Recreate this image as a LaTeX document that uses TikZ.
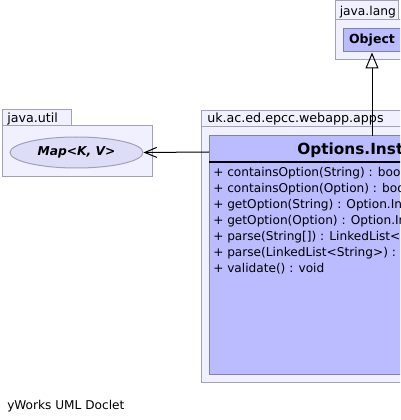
\documentclass[tikz,border=0pt]{standalone}
\usepackage{fontspec}
\setmainfont{DejaVu Sans}
\usetikzlibrary{arrows.meta,shapes.geometric}
\definecolor{pkgfill}{RGB}{240,240,255}
\definecolor{pkgline}{RGB}{160,160,184}
\definecolor{clsfill}{RGB}{187,187,255}
\definecolor{clsline}{RGB}{128,128,168}
\definecolor{ifcfill}{RGB}{221,221,248}
\begin{document}
\begin{tikzpicture}[x=0.75pt, y=-0.75pt, font=\fontsize{9.1}{11}\selectfont,
        pkg/.style={fill=pkgfill, draw=pkgline, line width=0.75pt},
        cls/.style={fill=clsfill, draw=clsline, line width=0.75pt},
        txt/.style={inner sep=0pt, anchor=base west},
        pkglabel/.style={txt, font=\fontsize{9.5}{11}\selectfont},
        inherit/.style={-{Triangle[open, length=12pt, width=9.75pt]}, line width=0.75pt},
        assoc/.style={-{Straight Barb[length=9pt, width=7.5pt]}, line width=0.75pt}]
        \useasboundingbox (0,0) rectangle (400,420);
        \clip (0,0) rectangle (400,420);
        % java.lang
        \draw[pkg] (335,1) rectangle (398,20);
        \draw[pkg] (335,20) rectangle (410,60);
        \node[txt, font=\fontsize{9.2}{11}\selectfont] (langlabel) at (339.5,16) {java.lang};
        \node[cls, minimum width=43.5pt, minimum height=17.25pt, inner sep=0pt, font=\fontsize{9.4}{11}\selectfont\bfseries] (object) at (372,40.5) {Object};
        % java.util
        \draw[pkg] (2,110) rectangle (71,126);
        \draw[pkg] (2,126) rectangle (152,176);
        \node[pkglabel] (utillabel) at (7,122.5) {java.util};
        \node[ellipse, fill=ifcfill, draw=pkgline, line width=0.75pt, minimum width=99.75pt, minimum height=23.25pt, inner sep=0pt, font=\fontsize{9.2}{11}\selectfont\bfseries\itshape] (map) at (76.5,152.5) {Map<K, V>};
        % uk.ac.ed.epcc.webapp.apps
        \draw[pkg] (201,111) rectangle (420,127);
        \draw[pkg] (201,127) rectangle (420,382);
        \node[pkglabel] (appslabel) at (207,123) {uk.ac.ed.epcc.webapp.apps};
        \draw[cls] (209,136) rectangle (420,374);
        \draw[line width=1.5pt] (209,162) -- (420,162);
        \node[txt, font=\fontsize{11.5}{13}\selectfont\bfseries] (title) at (297,155) {Options.Instance};
        \foreach \m [count=\i from 0] in {containsOption(String) : boolean,containsOption(Option) : boolean,getOption(String) : Option.Instance,getOption(Option) : Option.Instance,parse(String[]) : LinkedList<String>,parse(LinkedList<String>) : LinkedList<String>,validate() : void}
            {
                \node[txt] (m\i) at (213,{176.5+16*\i}) {+ \m};
            }
        % connectors
        \coordinate (optnorth) at (372,136);
        \coordinate (optwest) at (209,152);
        \draw[inherit] (optnorth) -- (object.south);
        \draw[assoc] (optwest) -- (map.east);
        \node[txt] (doclet) at (7,409) {yWorks UML Doclet};
    \end{tikzpicture}
\end{document}
